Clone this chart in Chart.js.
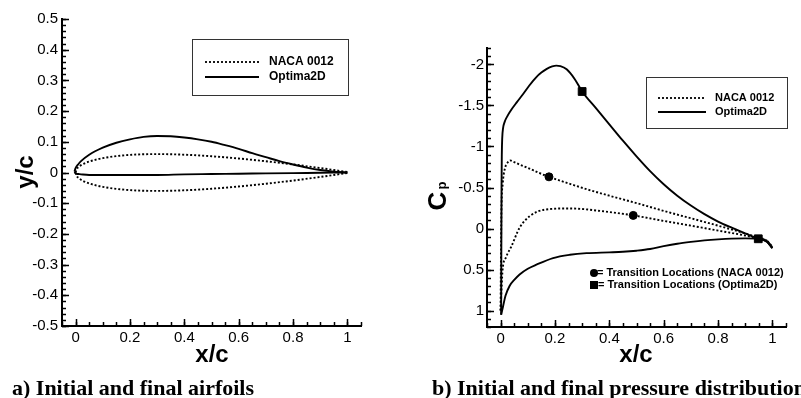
<!DOCTYPE html>
<html>
<head>
<meta charset="utf-8">
<script src="https://cdn.jsdelivr.net/npm/chart.js@4.4.1/dist/chart.umd.min.js"></script>
<style>
  body { margin: 0; background: #fff; width: 801px; height: 398px; overflow: hidden; position: relative; }
  canvas { position: absolute; top: 0; }
  #airfoils { left: 0; }
  #pressure { left: 400px; }
  .cap { position: absolute; top: 377px; font: bold 22px "Liberation Serif"; line-height: 22px; white-space: nowrap; color: #000; }
</style>
</head>
<body>
<canvas id="airfoils" width="400" height="398"></canvas>
<canvas id="pressure" width="401" height="398"></canvas>
<div class="cap" style="left:12px">a) Initial and final airfoils</div>
<div class="cap" style="left:432px">b) Initial and final pressure distributions</div>
<script>
// ---- panel a: airfoil shapes (x/c, y/c) ----
const nacaX      = [0, 0.003, 0.0125, 0.025, 0.05, 0.075, 0.1, 0.15, 0.2, 0.25, 0.3, 0.4, 0.5, 0.6, 0.7, 0.8, 0.9, 0.95, 1];
const nacaUpperY = [0, 0.009, 0.0189, 0.0262, 0.0355, 0.042, 0.0468, 0.0534, 0.0573, 0.0594, 0.06, 0.058, 0.0529, 0.0456, 0.0366, 0.0262, 0.0145, 0.0081, 0.0013];
const nacaLowerY = [0, -0.009, -0.0189, -0.0262, -0.0355, -0.042, -0.0468, -0.0534, -0.0573, -0.0594, -0.06, -0.058, -0.0529, -0.0456, -0.0366, -0.0262, -0.0145, -0.0081, -0.0013];

const optUpperX = [-0.004, 0, 0.01, 0.02, 0.05, 0.1, 0.15, 0.2, 0.25, 0.3, 0.35, 0.4, 0.45, 0.5, 0.55, 0.6, 0.65, 0.7, 0.75, 0.8, 0.85, 0.9, 0.95, 1];
const optUpperY = [0.004, 0.014, 0.027, 0.037, 0.058, 0.081, 0.097, 0.108, 0.116, 0.119, 0.118, 0.114, 0.108, 0.1, 0.089, 0.077, 0.063, 0.05, 0.037, 0.026, 0.016, 0.008, 0.003, 0];
const optLowerX = [-0.004, 0, 0.01, 0.02, 0.05, 0.1, 0.2, 0.3, 0.4, 0.5, 0.6, 0.7, 0.8, 0.9, 1];
const optLowerY = [0.004, -0.003, -0.005, -0.006, -0.008, -0.008, -0.008, -0.008, -0.006, -0.005, -0.004, -0.003, -0.002, -0.001, 0];

// ---- panel b: pressure coefficient (x/c, Cp) ----
const cpNacaUpperX = [0, 0.001, 0.003, 0.008, 0.015, 0.025, 0.035, 0.05, 0.07, 0.1, 0.14, 0.178, 0.25, 0.316, 0.4, 0.5, 0.6, 0.7, 0.8, 0.9, 0.948, 0.98, 1];
const cpNacaUpperY = [1.0, 0.5, -0.2, -0.55, -0.72, -0.8, -0.83, -0.81, -0.78, -0.74, -0.68, -0.63, -0.55, -0.48, -0.4, -0.31, -0.215, -0.125, -0.035, 0.06, 0.11, 0.15, 0.23];
const cpNacaLowerX = [0, 0.004, 0.0074, 0.02, 0.04, 0.07, 0.107, 0.162, 0.255, 0.378, 0.488, 0.6, 0.7, 0.8, 0.9, 0.948, 0.98, 1];
const cpNacaLowerY = [1.0, 0.7, 0.5, 0.35, 0.215, -0.01, -0.15, -0.23, -0.245, -0.21, -0.16, -0.093, -0.035, 0.025, 0.085, 0.12, 0.15, 0.22];

const cpOptUpperX = [0.002, 0.0025, 0.003, 0.0035, 0.0045, 0.006, 0.009, 0.015, 0.025, 0.04, 0.06, 0.083, 0.105, 0.13, 0.15, 0.17, 0.19, 0.205, 0.22, 0.243, 0.273, 0.3, 0.35, 0.4, 0.45, 0.5, 0.55, 0.6, 0.65, 0.7, 0.75, 0.8, 0.85, 0.9, 0.948, 0.98, 1];
const cpOptUpperY = [1.05, 0.5, 0, -0.5, -0.9, -1.1, -1.22, -1.3, -1.37, -1.45, -1.54, -1.64, -1.74, -1.84, -1.9, -1.945, -1.975, -1.985, -1.98, -1.94, -1.82, -1.67, -1.47, -1.27, -1.07, -0.88, -0.7, -0.54, -0.4, -0.28, -0.175, -0.085, -0.01, 0.06, 0.125, 0.16, 0.24];
const cpOptLowerX = [0.002, 0.009, 0.018, 0.033, 0.052, 0.07, 0.1, 0.132, 0.193, 0.255, 0.316, 0.4, 0.45, 0.5, 0.55, 0.6, 0.65, 0.7, 0.75, 0.8, 0.85, 0.9, 0.948, 0.98, 1];
const cpOptLowerY = [1.05, 0.95, 0.82, 0.7, 0.62, 0.56, 0.49, 0.44, 0.36, 0.32, 0.3, 0.29, 0.283, 0.27, 0.25, 0.215, 0.185, 0.163, 0.145, 0.132, 0.123, 0.12, 0.125, 0.16, 0.24];

// transition locations
const transNacaX = [0.178, 0.488];
const transNacaY = [-0.63, -0.16];
const transOptX = [0.30, 0.948];
const transOptY = [-1.67, 0.125];

// tick labels
const xTicks = [0, 0.2, 0.4, 0.6, 0.8, 1];
const yTicksA = [-0.5, -0.4, -0.3, -0.2, -0.1, 0, 0.1, 0.2, 0.3, 0.4, 0.5];
const yTicksB = [-2, -1.5, -1, -0.5, 0, 0.5, 1];

const FONT = '"Liberation Sans", Arial, sans-serif';
const pts = (xs, ys) => xs.map((x, i) => ({ x, y: ys[i] }));

function curve(label, xs, ys, dotted, inLegend) {
    return {
        label, data: pts(xs, ys), showLine: true,
        borderColor: '#000', borderWidth: 1.9,
        borderDash: dotted ? [2, 2] : [],
        pointRadius: 0, cubicInterpolationMode: 'monotone',
        fill: false, inLegend
    };
}

// tick marks pointing into the plot, majors at the labels plus minors
const innerTicks = {
    id: 'innerTicks',
    afterDraw(chart, args, opts) {
        const { ctx, chartArea: a, scales: { x, y } } = chart;
        ctx.save();
        ctx.strokeStyle = '#000';
        ctx.lineWidth = 1.5;
        ctx.setLineDash([]);
        const mark = (scale, values, len) => {
            values.forEach(v => {
                const p = Math.round(scale.getPixelForValue(v)) + 0.5;
                ctx.beginPath();
                if (scale.isHorizontal()) { ctx.moveTo(p, a.bottom); ctx.lineTo(p, a.bottom - len); }
                else { ctx.moveTo(a.left, p); ctx.lineTo(a.left + len, p); }
                ctx.stroke();
            });
        };
        const minors = (scale, step) => {
            const out = [];
            const lo = Math.min(scale.min, scale.max), hi = Math.max(scale.min, scale.max);
            for (let k = Math.ceil(lo / step - 1e-6); k * step <= hi + 1e-9; k++) out.push(k * step);
            return out;
        };
        mark(x, minors(x, opts.xMinor), 4);
        mark(y, minors(y, opts.yMinor), 4);
        mark(x, x.ticks.map(t => t.value), 7);
        mark(y, y.ticks.map(t => t.value), 7);
        ctx.restore();
    }
};

// axis titles and boxed legend
const decor = {
    id: 'decor',
    afterDraw(chart, args, o) {
        const { ctx } = chart;
        ctx.save();
        ctx.fillStyle = '#000';
        ctx.strokeStyle = '#000';
        // x title
        ctx.font = 'bold 24px ' + FONT;
        ctx.textAlign = 'center';
        ctx.textBaseline = 'middle';
        ctx.fillText(o.xTitle, o.xTitlePos[0], o.xTitlePos[1]);
        // y title (rotated)
        ctx.save();
        ctx.translate(o.yTitlePos[0], o.yTitlePos[1]);
        ctx.rotate(-Math.PI / 2);
        if (o.ySub) {
            ctx.textAlign = 'left';
            ctx.textBaseline = 'alphabetic';
            ctx.font = 'bold 26px ' + FONT;
            const w = ctx.measureText(o.yTitle).width;
            ctx.fillText(o.yTitle, -w / 2 - 4, 9);
            ctx.font = 'bold 13px ' + FONT;
            ctx.fillText(o.ySub, w / 2 - 2, 9);
        } else {
            ctx.fillText(o.yTitle, 0, 0);
        }
        ctx.restore();
        // legend box
        const L = o.legend;
        ctx.lineWidth = 1;
        ctx.strokeStyle = '#333';
        ctx.strokeRect(L.box[0] + 0.5, L.box[1] + 0.5, L.box[2], L.box[3]);
        ctx.font = 'bold ' + L.size + 'px ' + FONT;
        ctx.textAlign = 'left';
        ctx.textBaseline = 'middle';
        const items = chart.data.datasets.filter(d => d.inLegend);
        items.forEach((d, i) => {
            const yy = L.rows[i];
            ctx.beginPath();
            ctx.setLineDash(d.borderDash);
            ctx.lineWidth = 1.8;
            ctx.strokeStyle = '#000';
            ctx.moveTo(L.line[0], yy);
            ctx.lineTo(L.line[1], yy);
            ctx.stroke();
            ctx.setLineDash([]);
            ctx.fillText(d.label, L.text, yy);
        });
        // marker key
        if (o.key) {
            const K = o.key;
            ctx.font = 'bold ' + K.size + 'px ' + FONT;
            ctx.beginPath();
            ctx.arc(K.x, K.rows[0], 4, 0, Math.PI * 2);
            ctx.fill();
            ctx.fillRect(K.x - 4, K.rows[1] - 4, 8, 8);
            ctx.fillText(K.labels[0], K.x + 3, K.rows[0]);
            ctx.fillText(K.labels[1], K.x + 4, K.rows[1]);
        }
        ctx.restore();
    }
};

function axes(xMin, xMax, yMin, yMax, yTicks, reverse, yWidth, xHeight, tickPad) {
    const fmt = v => String(+v.toFixed(2));
    return {
        x: {
            type: 'linear', min: xMin, max: xMax,
            afterBuildTicks: s => { s.ticks = xTicks.map(v => ({ value: v })); },
            afterFit: s => { s.height = xHeight; },
            grid: { display: false, drawTicks: false },
            border: { display: true, color: '#000', width: 2 },
            ticks: { color: '#000', font: { family: FONT, size: 15 }, padding: 3, maxRotation: 0, callback: fmt }
        },
        y: {
            type: 'linear', min: yMin, max: yMax, reverse,
            afterBuildTicks: s => { s.ticks = yTicks.map(v => ({ value: v })); },
            afterFit: s => { s.width = yWidth; },
            grid: { display: false, drawTicks: false },
            border: { display: true, color: '#000', width: 2 },
            ticks: { color: '#000', font: { family: FONT, size: 15 }, padding: tickPad, callback: fmt }
        }
    };
}

const common = {
    responsive: false, animation: false, devicePixelRatio: 1,
    plugins: { legend: { display: false }, tooltip: { enabled: false } }
};

new Chart(document.getElementById('airfoils'), {
    type: 'scatter',
    data: {
        datasets: [
            curve('NACA 0012', nacaX, nacaUpperY, true, true),
            curve('NACA 0012', nacaX, nacaLowerY, true, false),
            curve('Optima2D', optUpperX, optUpperY, false, true),
            curve('Optima2D', optLowerX, optLowerY, false, false)
        ]
    },
    options: {
        ...common,
        layout: { padding: { top: 19, right: 39, left: 0, bottom: 0 } },
        scales: axes(-0.05, 1.05, -0.5, 0.5, yTicksA, false, 62, 72, 4),
        plugins: {
            ...common.plugins,
            innerTicks: { xMinor: 0.05, yMinor: 0.02 },
            decor: {
                xTitle: 'x/c', xTitlePos: [212, 355],
                yTitle: 'y/c', yTitlePos: [26, 172],
                legend: { box: [192, 39, 156, 56], line: [205, 259], rows: [62, 77], text: 269, size: 12 }
            }
        }
    },
    plugins: [innerTicks, decor]
});

new Chart(document.getElementById('pressure'), {
    type: 'scatter',
    data: {
        datasets: [
            {
                label: 'NACA 0012 transition', data: pts(transNacaX, transNacaY), showLine: false,
                pointStyle: 'circle', pointRadius: 4, pointBackgroundColor: '#000', pointBorderColor: '#000'
            },
            {
                label: 'Optima2D transition', data: pts(transOptX, transOptY), showLine: false,
                pointStyle: 'rect', pointRadius: 5.5, pointBackgroundColor: '#000', pointBorderColor: '#000'
            },
            curve('NACA 0012', cpNacaUpperX, cpNacaUpperY, true, true),
            curve('NACA 0012', cpNacaLowerX, cpNacaLowerY, true, false),
            curve('Optima2D', cpOptUpperX, cpOptUpperY, false, true),
            curve('Optima2D', cpOptLowerX, cpOptLowerY, false, false)
        ]
    },
    options: {
        ...common,
        layout: { padding: { top: 48, right: 15, left: 0, bottom: 0 } },
        scales: axes(-0.05, 1.05, -2.2, 1.2, yTicksB, true, 87, 71, 3),
        plugins: {
            ...common.plugins,
            innerTicks: { xMinor: 0.05, yMinor: 0.1 },
            decor: {
                xTitle: 'x/c', xTitlePos: [236, 355],
                yTitle: 'C', ySub: 'p', yTitlePos: [37, 197],
                legend: { box: [246, 77, 141, 51], line: [258, 306], rows: [98, 112], text: 315, size: 11 },
                key: { x: 194, rows: [273, 285], size: 11,
                       labels: ['= Transition Locations (NACA 0012)', '= Transition Locations (Optima2D)'] }
            }
        }
    },
    plugins: [innerTicks, decor]
});
</script>
</body>
</html>
